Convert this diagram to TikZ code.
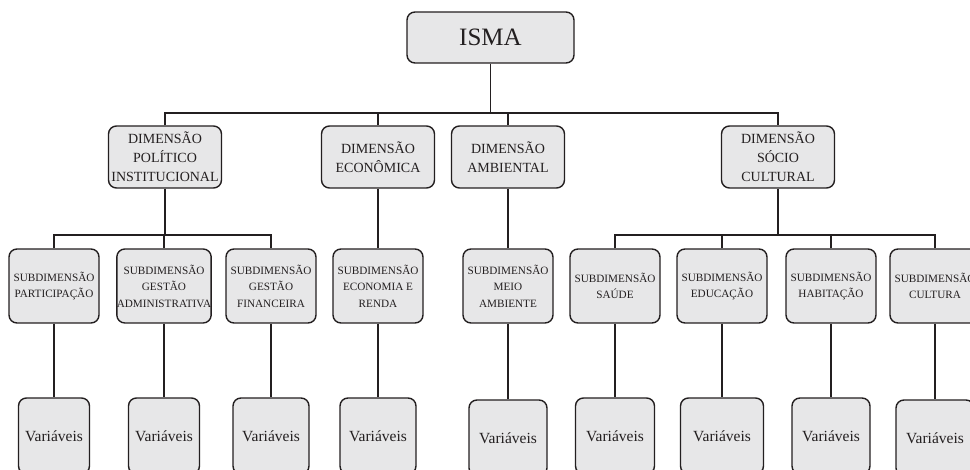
\documentclass[tikz,border=0pt]{standalone}
\usepackage{fontspec}
\setmainfont{Liberation Serif}
\definecolor{boxfill}{RGB}{231,231,232}
\definecolor{ink}{RGB}{35,31,32}
\begin{document}
\begin{tikzpicture}[x=1pt,y=-1pt,
  box/.style={draw=ink,fill=boxfill,line width=1.4pt,rounded corners=8pt,inner sep=0pt,align=center,text=ink},
  topbox/.style={box,minimum width=167pt,minimum height=51pt,font=\fontsize{25}{28}\selectfont},
  dimbox/.style={box,minimum width=113pt,minimum height=62pt,font=\fontsize{14}{19}\selectfont},
  subbox/.style={box,minimum width=90pt,minimum height=74pt,font=\fontsize{11.2}{16.5}\selectfont},
  varbox/.style={box,minimum height=76pt,font=\fontsize{15.5}{18}\selectfont},
  conn/.style={draw=ink,line width=1.4pt}]
\useasboundingbox (0,0) rectangle (970,470);
\clip (0,0) rectangle (970,470);
% top
\node[topbox] (isma) at (490.5,37.5) {ISMA};
% dimensions
\node[dimbox] (dpi) at (165,157) {DIMENSÃO\\POLÍTICO\\INSTITUCIONAL};
\node[dimbox] (decon) at (378,157) {DIMENSÃO\\ECONÔMICA};
\node[dimbox] (damb) at (508,157) {DIMENSÃO\\AMBIENTAL};
\node[dimbox] (dsc) at (778,157) {DIMENSÃO\\SÓCIO\\CULTURAL};
% subdimensions
\node[subbox] (sp) at (54,286) {SUBDIMENSÃO\\PARTICIPAÇÃO};
\node[subbox] (sga) at (164,286) {SUBDIMENSÃO\\GESTÃO\\ADMINISTRATIVA};
\node[subbox] (sgf) at (271,286) {SUBDIMENSÃO\\GESTÃO\\FINANCEIRA};
\node[subbox] (ser) at (378,286) {SUBDIMENSÃO\\ECONOMIA E\\RENDA};
\node[subbox] (sma) at (508,286) {SUBDIMENSÃO\\MEIO\\AMBIENTE};
\node[subbox] (ss) at (615,286) {SUBDIMENSÃO\\SAÚDE};
\node[subbox] (se) at (722,286) {SUBDIMENSÃO\\EDUCAÇÃO};
\node[subbox] (sh) at (831,286) {SUBDIMENSÃO\\HABITAÇÃO};
\node[subbox] (sc) at (935,286) {SUBDIMENSÃO\\CULTURA};
% variables
\node[varbox,minimum width=71pt] (v1) at (54,436) {Variáveis};
\node[varbox,minimum width=71pt] (v2) at (164,436) {Variáveis};
\node[varbox,minimum width=76pt] (v3) at (271,436) {Variáveis};
\node[varbox,minimum width=76pt] (v4) at (378,436) {Variáveis};
\node[varbox,minimum width=78pt] (v5) at (508,438) {Variáveis};
\node[varbox,minimum width=79pt] (v6) at (615,436) {Variáveis};
\node[varbox,minimum width=83pt] (v7) at (722,436) {Variáveis};
\node[varbox,minimum width=78pt] (v8) at (831,436) {Variáveis};
\node[varbox,minimum width=78pt] (v9) at (935,438) {Variáveis};
% bus coordinates
\coordinate (b1) at (0,113);
\coordinate (b2) at (0,235);
% connectors level 1
\draw[conn] (isma.south) -- (isma.south |- b1);
\draw[conn] (dpi.north) -- (dpi.north |- b1) -- (dsc.north |- b1) -- (dsc.north);
\draw[conn] (decon.north) -- (decon.north |- b1);
\draw[conn] (damb.north) -- (damb.north |- b1);
% connectors level 2
\draw[conn] (dpi.south) -- (dpi.south |- b2);
\draw[conn] (sp.north) -- (sp.north |- b2) -- (sgf.north |- b2) -- (sgf.north);
\draw[conn] (sga.north) -- (sga.north |- b2);
\draw[conn] (decon.south) -- (ser.north);
\draw[conn] (damb.south) -- (sma.north);
\draw[conn] (dsc.south) -- (dsc.south |- b2);
\draw[conn] (ss.north) -- (ss.north |- b2) -- (sc.north |- b2) -- (sc.north);
\draw[conn] (se.north) -- (se.north |- b2);
\draw[conn] (sh.north) -- (sh.north |- b2);
% connectors level 3
\draw[conn] (sp.south) -- (v1.north);
\draw[conn] (sga.south) -- (v2.north);
\draw[conn] (sgf.south) -- (v3.north);
\draw[conn] (ser.south) -- (v4.north);
\draw[conn] (sma.south) -- (v5.north);
\draw[conn] (ss.south) -- (v6.north);
\draw[conn] (se.south) -- (v7.north);
\draw[conn] (sh.south) -- (v8.north);
\draw[conn] (sc.south) -- (v9.north);
\end{tikzpicture}
\end{document}
